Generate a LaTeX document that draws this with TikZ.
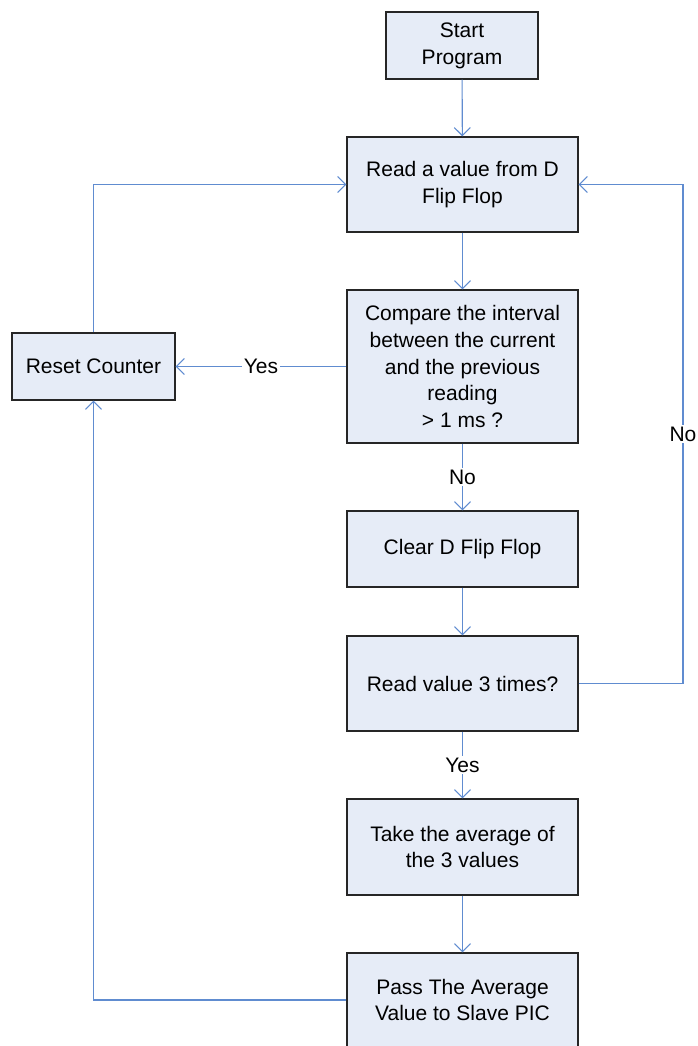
\documentclass[tikz,border=0pt]{standalone}
\usepackage{fontspec}
\setmainfont{Liberation Sans}
\usetikzlibrary{arrows.meta}
\definecolor{boxfill}{RGB}{230,236,247}
\definecolor{boxline}{RGB}{38,38,38}
\definecolor{conn}{RGB}{96,140,208}
\tikzset{
  stepbox/.style={draw=boxline, line width=1.3pt, fill=boxfill, align=center,
    inner sep=0pt, font=\fontsize{21}{26.7}\selectfont},
  flow/.style={draw=conn, line width=1.1pt, -{Straight Barb[length=8pt,width=16pt,line width=1.1pt]}},
  plain/.style={draw=conn, line width=1.1pt},
  lbl/.style={fill=white, inner sep=1.5pt, font=\fontsize{21}{26.7}\selectfont}
}
\begin{document}
\begin{tikzpicture}[x=1pt,y=-1pt]
\useasboundingbox (0,0) rectangle (698,1046);
\node[stepbox, minimum width=152pt, minimum height=67pt] (start) at (462,45.5) {Start\\Program};
\node[stepbox, minimum width=231pt, minimum height=95pt] (read) at (462.5,184.5) {Read a value from D\\Flip Flop};
\node[stepbox, minimum width=231pt, minimum height=153pt] (cmp) at (462.5,366.5) {Compare the interval\\between the current\\and the previous\\reading\\> 1 ms ?};
\node[stepbox, minimum width=231pt, minimum height=76pt] (clear) at (462.5,549) {Clear D Flip Flop};
\node[stepbox, minimum width=231pt, minimum height=95pt] (read3) at (462.5,683.5) {Read value 3 times?};
\node[stepbox, minimum width=231pt, minimum height=96pt] (avg) at (462.5,847) {Take the average of\\the 3 values};
\node[stepbox, minimum width=231pt, minimum height=94pt] (pass) at (462.5,1000) {Pass The Average\\Value to Slave PIC};
\node[stepbox, minimum width=163pt, minimum height=67pt] (reset) at (93.5,366.5) {Reset Counter};
\coordinate (rtop) at (683,184.5);
\coordinate (rbot) at (683,683.5);
\draw[flow] (start) -- (read);
\draw[flow] (read) -- (cmp);
\draw[flow] (cmp) -- node[lbl] {No} (clear);
\draw[flow] (clear) -- (read3);
\draw[flow] (read3) -- node[lbl] {Yes} (avg);
\draw[flow] (avg) -- (pass);
\draw[flow] (cmp) -- node[lbl] {Yes} (reset);
\draw[flow] (reset.north) |- (read.west);
\draw[plain] (read3.east) -- (rbot);
\draw[flow] (rbot) -- node[lbl, pos=0.5] {No} (rtop) -- (read.east);
\draw[flow] (pass.west) -| (reset.south);
\end{tikzpicture}
\end{document}
